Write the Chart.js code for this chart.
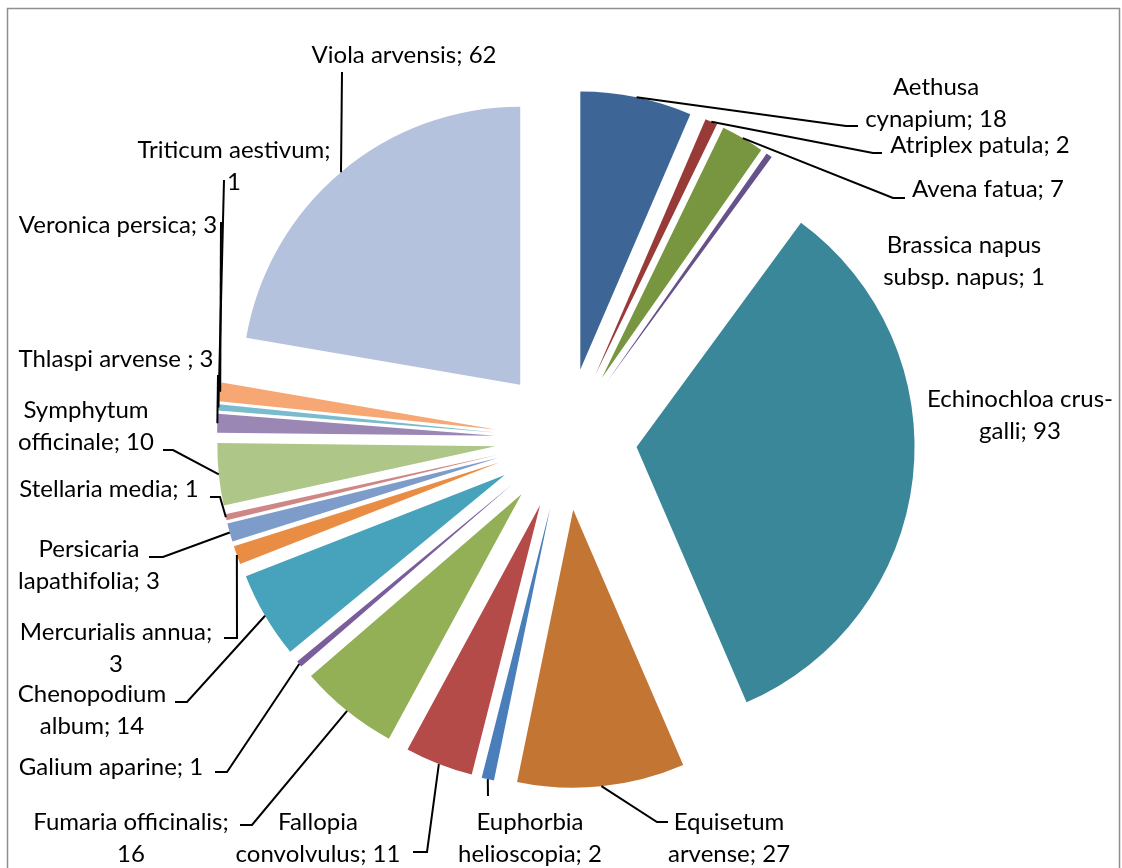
<!DOCTYPE html>
<html>
<head>
<meta charset="utf-8">
<script src="https://cdn.jsdelivr.net/npm/chart.js@4.4.0/dist/chart.umd.min.js"></script>
<style>
html, body { margin: 0; padding: 0; background: #fff; }
canvas { display: block; }
</style>
</head>
<body>
<canvas id="myChart" width="1122" height="868"></canvas>
<script>
const species = [
    'Aethusa cynapium', 'Atriplex patula', 'Avena fatua', 'Brassica napus subsp. napus',
    'Echinochloa crus-galli', 'Equisetum arvense', 'Euphorbia helioscopia', 'Fallopia convolvulus',
    'Fumaria officinalis', 'Galium aparine', 'Chenopodium album', 'Mercurialis annua',
    'Persicaria lapathifolia', 'Stellaria media', 'Symphytum officinale', 'Thlaspi arvense ',
    'Triticum aestivum', 'Veronica persica', 'Viola arvensis'
];
const counts = [18, 2, 7, 1, 93, 27, 2, 11, 16, 1, 14, 3, 3, 1, 10, 3, 1, 3, 62];
const sliceColors = [
    '#3D6696', '#983A38', '#78963F', '#66518A', '#3A879A', '#C37534',
    '#4A7EBB', '#B44B49', '#93B056', '#7A5E9C', '#47A3BC', '#EA8D44',
    '#7E9CC9', '#CF8785', '#AEC688', '#9B87B4', '#7ABBCD', '#F7A774', '#B4C2DD'
];

// words on the first line of each label (0 = one line)
const labelBreaks = [1, 0, 0, 2, 2, 1, 1, 1, 2, 0, 1, 2, 1, 0, 1, 0, 2, 0, 0];
// centre x and first baseline of each label
const labelPos = [
    [936, 95], [980, 153], [988, 197], [964, 253], [1020, 407], [729, 830], [530, 830],
    [318, 830], [131, 830], [111, 775], [92, 702], [116, 640], [89, 557], [109, 497],
    [86, 418], [116, 367], [234, 158], [118, 233], [404, 63]
];
// leader points on the label side, the end on the slice comes from the arc
const leaderPts = [
    [[858, 126], [846, 126]], [[882, 153], [873, 153]], [[905, 198], [893, 198]], null, null,
    [[668, 822], [657, 822]], [[488, 796]], [[413, 852], [427, 852]], [[240, 825], [252, 825]],
    [[215, 772], [227, 772]], [[175, 702], [187, 702]], [[224, 638], [237, 638]],
    [[149, 557], [163, 557]], [[210, 497], [220, 497]], [[163, 450], [173, 450]],
    [[218, 375]], [[224, 180]], [[221, 222]], [[342, 72]]
];

const EXPLODE = 71;
const LINE_H = 32;

function wrapLabel(text, n) {
    const parts = text.match(/[^\s-]+-?|-/g);
    const join = arr => arr.reduce((s, p, k) => s + (k && !arr[k - 1].endsWith('-') ? ' ' : '') + p, '');
    if (!n) return [join(parts)];
    return [join(parts.slice(0, n)), join(parts.slice(n))];
}

const framePlugin = {
    id: 'frame',
    beforeDraw(chart) {
        const ctx = chart.ctx;
        ctx.save();
        ctx.fillStyle = '#fff';
        ctx.fillRect(0, 0, chart.width, chart.height);
        ctx.strokeStyle = '#8F8F8F';
        ctx.lineWidth = 1.5;
        ctx.strokeRect(7.5, 8.5, 1112, 900);
        ctx.restore();
    }
};

// every slice pulled out from the centre by the same distance
const explodePlugin = {
    id: 'explode',
    beforeDatasetDraw(chart, args) {
        const ctx = chart.ctx;
        args.meta.data.forEach(arc => {
            const mid = (arc.startAngle + arc.endAngle) / 2;
            ctx.save();
            ctx.translate(Math.cos(mid) * EXPLODE, Math.sin(mid) * EXPLODE);
            arc.draw(ctx);
            ctx.restore();
        });
        return false;
    }
};

const labelPlugin = {
    id: 'sliceLabels',
    afterDraw(chart) {
        const ctx = chart.ctx;
        const arcs = chart.getDatasetMeta(0).data;
        ctx.save();
        ctx.strokeStyle = '#000';
        ctx.lineWidth = 2;
        arcs.forEach((arc, i) => {
            const pts = leaderPts[i];
            if (!pts) return;
            const mid = (arc.startAngle + arc.endAngle) / 2;
            const r = arc.outerRadius + EXPLODE;
            ctx.beginPath();
            ctx.moveTo(pts[0][0], pts[0][1]);
            for (let k = 1; k < pts.length; k++) ctx.lineTo(pts[k][0], pts[k][1]);
            ctx.lineTo(arc.x + Math.cos(mid) * r, arc.y + Math.sin(mid) * r);
            ctx.stroke();
        });
        ctx.font = '24px Lato';
        ctx.fillStyle = '#000';
        ctx.textAlign = 'center';
        ctx.textBaseline = 'alphabetic';
        species.forEach((name, i) => {
            const lines = wrapLabel(name + '; ' + counts[i], labelBreaks[i]);
            lines.forEach((ln, k) => ctx.fillText(ln, labelPos[i][0], labelPos[i][1] + k * LINE_H));
        });
        ctx.restore();
    }
};

function drawChart() {
    const ctx = document.querySelector('#myChart').getContext('2d');
    new Chart(ctx, {
        type: 'pie',
        data: {
            labels: species,
            datasets: [{
                data: counts,
                backgroundColor: sliceColors,
                borderWidth: 0
            }]
        },
        options: {
            responsive: false,
            animation: false,
            radius: 278,
            layout: { padding: { left: 10, top: 10, right: 0, bottom: 0 } },
            plugins: {
                legend: { display: false },
                tooltip: { enabled: false }
            }
        },
        plugins: [framePlugin, explodePlugin, labelPlugin]
    });
}

document.fonts.load('24px Lato').then(drawChart, drawChart);
</script>
</body>
</html>
